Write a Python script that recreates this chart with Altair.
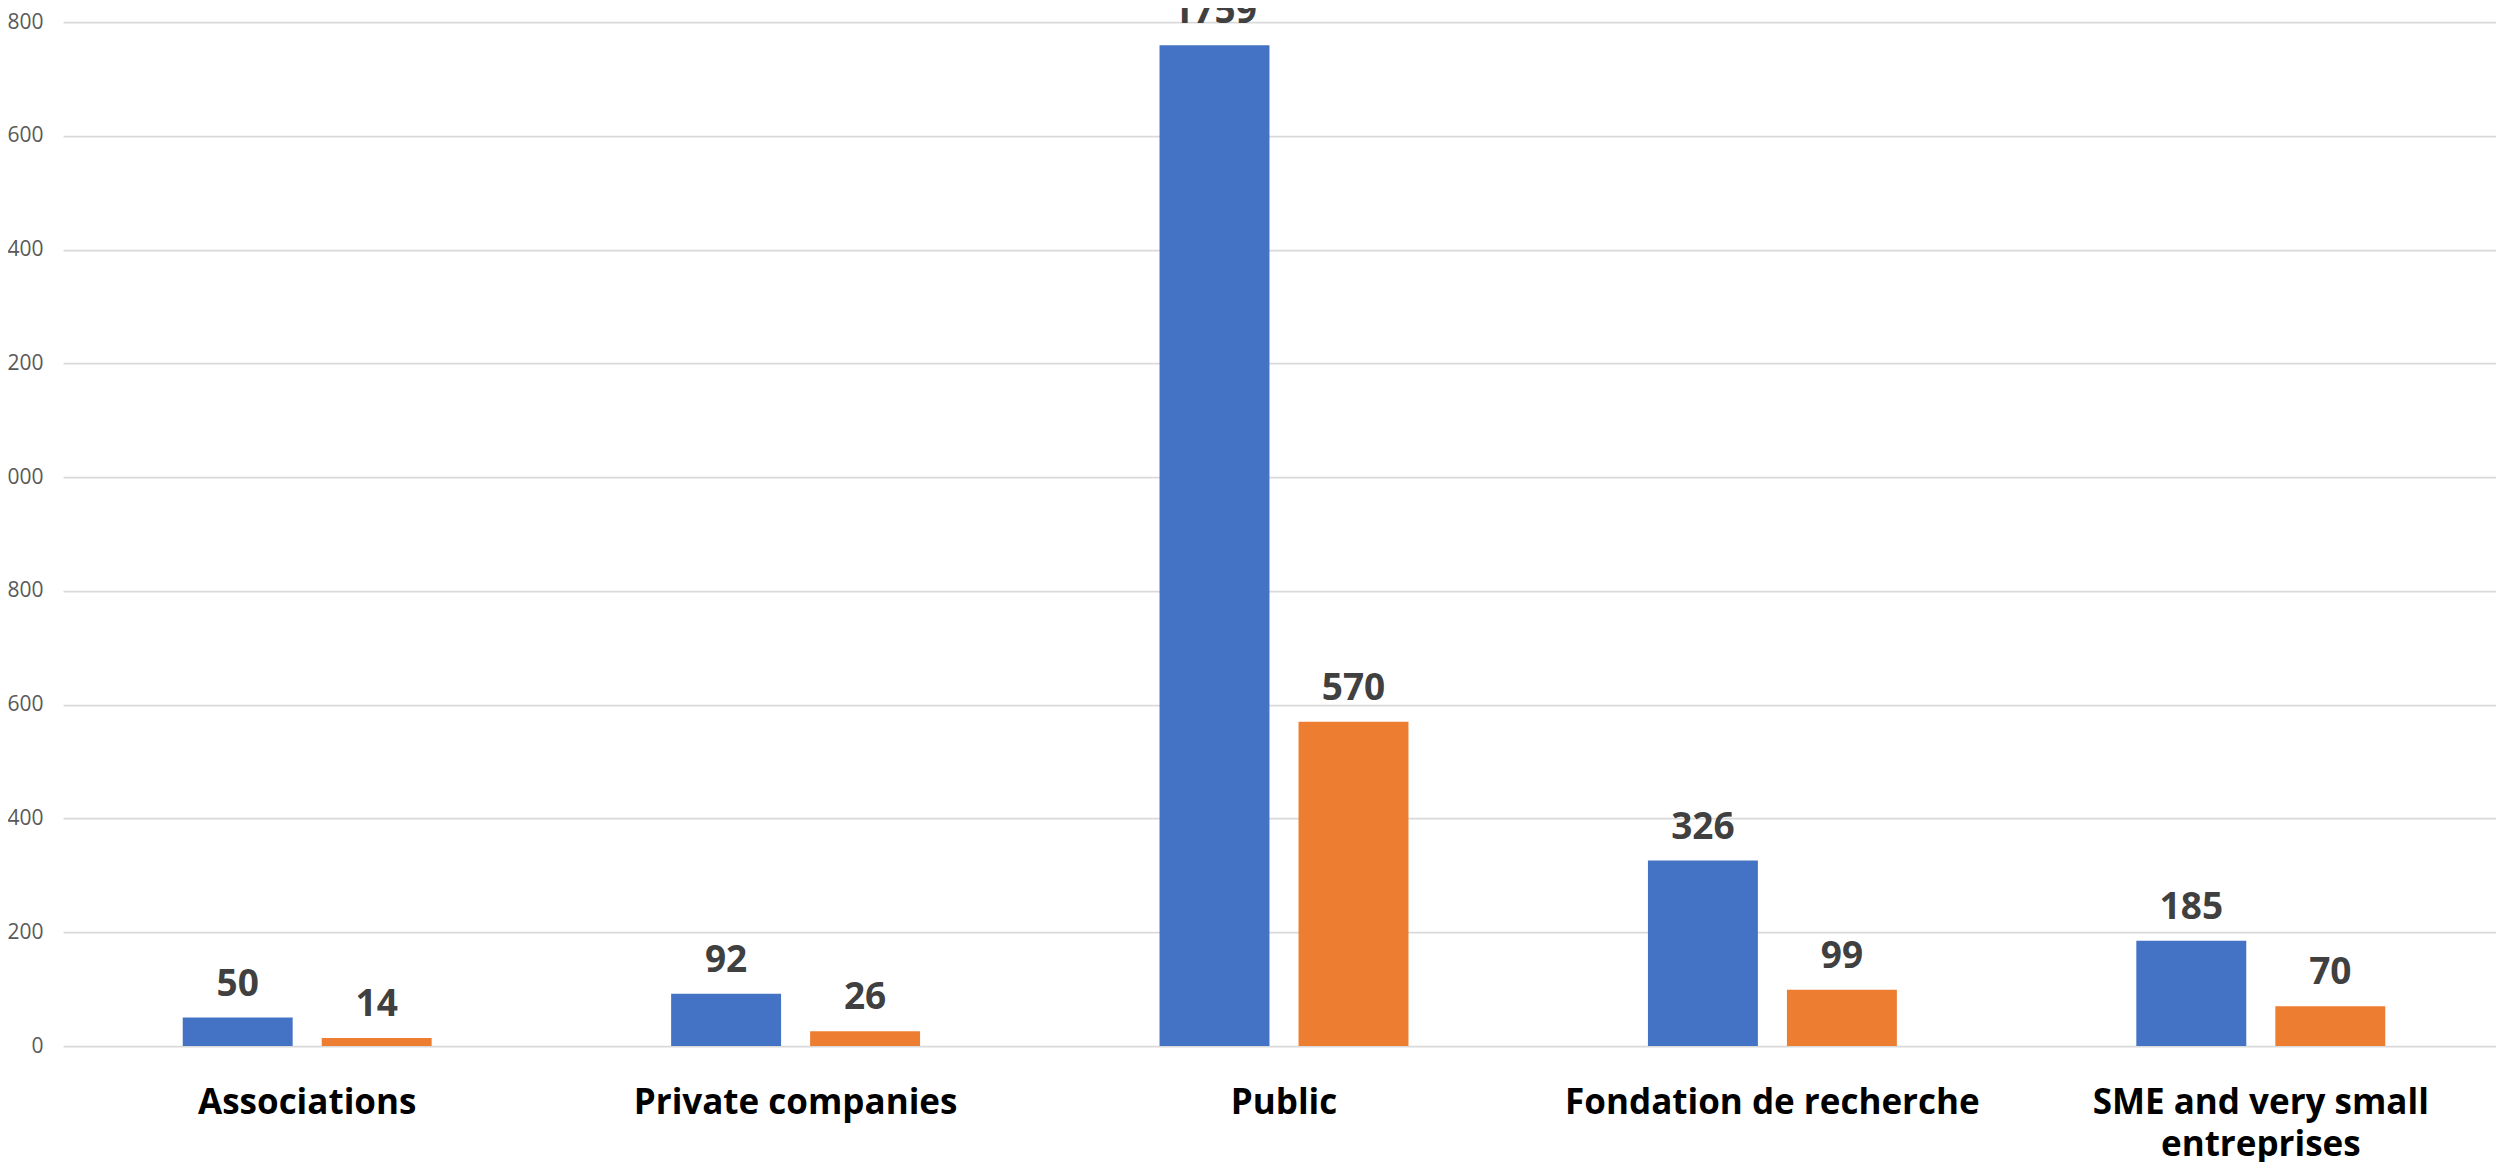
import altair as alt
import pandas as pd

categories = ["Associations", "Private companies", "Public", "Fondation de recherche", "SME and very small entreprises"]
series_names = ["Series 1", "Series 2"]
series1 = [50, 92, 1759, 326, 185]
series2 = [14, 26, 570, 99, 70]
y_ticks = [0, 200, 400, 600, 800, 1000, 1200, 1400, 1600, 1800]
colors = ["#4472C4", "#ED7D31"]

rows = []
for c, v1, v2 in zip(categories, series1, series2):
    rows.append({"category": c, "series": series_names[0], "value": v1})
    rows.append({"category": c, "series": series_names[1], "value": v2})
df = pd.DataFrame(rows)

label_expr = ("datum.label == 'SME and very small entreprises' ? "
              "['SME and very small', 'entreprises'] : datum.label")

base = alt.Chart(df).encode(
    x=alt.X(
        "category:N",
        sort=categories,
        scale=alt.Scale(paddingInner=0.4903, paddingOuter=0.24515),
        axis=alt.Axis(
            title=None, labelAngle=0, labelFontSize=35, labelFont="Open Sans",
            labelFontWeight="bold", labelColor="#000000", labelPadding=39,
            ticks=False, domain=False, labelLimit=0, labelLineHeight=42,
            labelOverlap=False, labelExpr=label_expr,
        ),
    ),
    xOffset=alt.XOffset("series:N", sort=series_names,
                        scale=alt.Scale(paddingInner=0.209, paddingOuter=0)),
    y=alt.Y(
        "value:Q",
        scale=alt.Scale(domain=[0, 1800], nice=False),
        axis=alt.Axis(
            title=None, values=y_ticks, labelFontSize=21, labelFont="Open Sans",
            labelColor="#595959", labelPadding=20, ticks=False, domain=False,
            gridColor="#D9D9D9", gridWidth=1.75,
        ),
    ),
)

bars = base.mark_bar().encode(
    color=alt.Color("series:N", scale=alt.Scale(domain=series_names, range=colors), legend=None)
)
text = base.mark_text(
    baseline="alphabetic", dy=-22, fontSize=37, fontWeight="bold",
    color="#404040", font="Open Sans",
).encode(text="value:Q")

chart = alt.layer(bars, text).properties(
    width=2442, height=1024,
    autosize=alt.AutoSizeParams(type="none"),
    padding={"left": 55, "top": 14, "right": -9, "bottom": 116},
).configure_view(stroke=None)

chart.save("out.html", embed_options={"renderer": "svg", "actions": False})
